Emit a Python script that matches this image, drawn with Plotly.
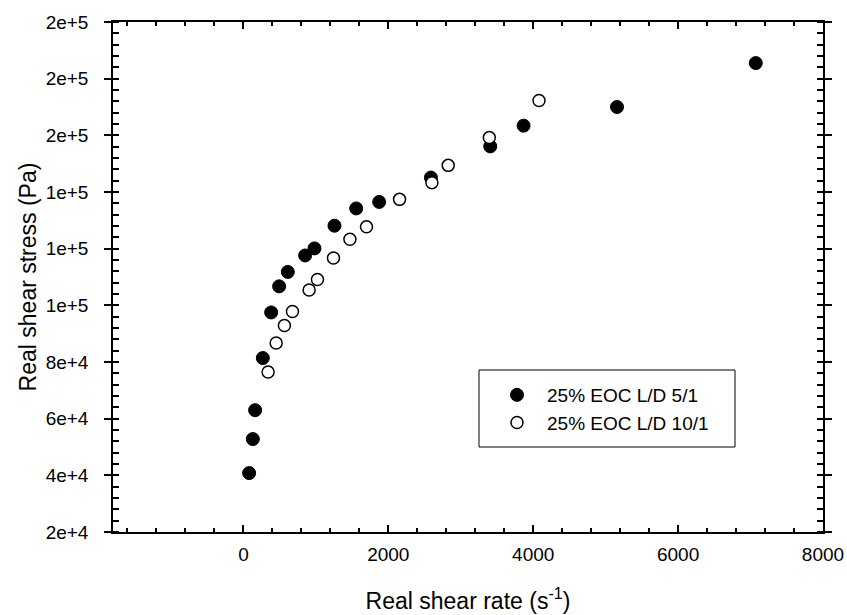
import plotly.graph_objects as go

# ---- data ----
rate_5_1 = [79, 130, 162, 268, 383, 493, 613, 852, 981, 1257, 1557, 1874, 2588, 3407, 3867, 5157, 7072]
stress_5_1 = [40800, 52800, 63000, 81400, 97500, 106700, 111800, 117600, 120100, 128100, 134200, 136500,
              145100, 156100, 163400, 170000, 185500]

rate_10_1 = [341, 452, 566, 677, 907, 1022, 1243, 1470, 1699, 2155, 2602, 2827, 3394, 4080]
stress_10_1 = [76500, 86700, 92900, 97800, 105400, 109100, 116700, 123300, 127700, 137400, 143300,
               149400, 159200, 172300]

series_names = ["25% EOC L/D 5/1", "25% EOC L/D 10/1"]

y_tickvals = [20000, 40000, 60000, 80000, 100000, 120000, 140000, 160000, 180000, 200000]
y_ticktext = ["2e+4", "4e+4", "6e+4", "8e+4", "1e+5", "1e+5", "1e+5", "2e+5", "2e+5", "2e+5"]
x_tickvals = [0, 2000, 4000, 6000, 8000]
x_ticktext = ["0", "2000", "4000", "6000", "8000"]

X_RANGE = [-1800, 8000]
Y_RANGE = [20000, 200000]

FONT = "Liberation Sans, Arial, Helvetica, sans-serif"

fig = go.Figure()
fig.add_trace(go.Scatter(
    x=rate_5_1, y=stress_5_1, mode="markers", name=series_names[0],
    marker=dict(symbol="circle", size=13, color="black", line=dict(color="black", width=1)),
))
fig.add_trace(go.Scatter(
    x=rate_10_1, y=stress_10_1, mode="markers", name=series_names[1],
    marker=dict(symbol="circle", size=12, color="white", line=dict(color="black", width=1.5)),
))
# empty helper trace to activate the overlay axis that draws inner halves of major y ticks
fig.add_trace(go.Scatter(x=[], y=[], yaxis="y2", showlegend=False, hoverinfo="skip"))

W, H = 847, 615
L, R, T, B = 113, 24, 22, 83
pw, ph = W - L - R, H - T - B

def px_to_paper(px, py):
    return (px - L) / pw, (H - B - py) / ph

lx0, ly0 = px_to_paper(479, 447)
lx1, ly1 = px_to_paper(735, 370)

fig.update_layout(
    width=W, height=H,
    margin=dict(l=L, r=R, t=T, b=B, autoexpand=False),
    paper_bgcolor="white", plot_bgcolor="white",
    font=dict(family=FONT, size=19, color="black"),
    showlegend=True,
    legend=dict(
        x=px_to_paper(487, 0)[0], y=px_to_paper(0, 376)[1], xanchor="left", yanchor="top",
        bgcolor="rgba(0,0,0,0)", borderwidth=0,
        font=dict(family=FONT, size=19, color="black"),
        itemwidth=50, tracegroupgap=0,
    ),
    xaxis=dict(
        range=X_RANGE, tickmode="array", tickvals=x_tickvals, ticktext=x_ticktext,
        ticks="inside", ticklen=7, tickwidth=1.5, tickcolor="black",
        showline=True, linecolor="black", linewidth=1.5, mirror="ticks",
        showgrid=False, zeroline=False, automargin=False,
        minor=dict(dtick=400, tick0=0, ticks="inside", ticklen=4, tickwidth=1.5, tickcolor="black", showgrid=False),
        tickfont=dict(family=FONT, size=19),
        ticklabelstandoff=4,
        title=dict(text="Real shear rate (s<sup>-1</sup>)", font=dict(family=FONT, size=23), standoff=29),
    ),
    yaxis=dict(
        range=Y_RANGE, tickmode="array", tickvals=y_tickvals, ticktext=y_ticktext,
        ticks="outside", ticklen=7, tickwidth=1.5, tickcolor="black",
        showline=True, linecolor="black", linewidth=1.5, mirror="ticks",
        showgrid=False, zeroline=False, automargin=False,
        minor=dict(dtick=4000, tick0=0, ticks="inside", ticklen=6, tickwidth=1.5, tickcolor="black", showgrid=False),
        tickfont=dict(family=FONT, size=19),
        ticklabelstandoff=12,
        title=dict(text="Real shear stress (Pa)", font=dict(family=FONT, size=23), standoff=3),
    ),
    yaxis2=dict(
        overlaying="y", anchor="x", side="left",
        range=Y_RANGE, tickmode="array", tickvals=y_tickvals,
        ticks="inside", ticklen=6, tickwidth=1.5, tickcolor="black",
        showline=True, linecolor="black", linewidth=1.5, mirror="ticks",
        showticklabels=False, showgrid=False, zeroline=False, automargin=False,
    ),
    shapes=[dict(type="rect", xref="paper", yref="paper", x0=lx0, y0=ly0, x1=lx1, y1=ly1,
                 line=dict(color="black", width=1), fillcolor="rgba(0,0,0,0)", layer="above")],
)

fig.write_html(
    "out.html",
    config={"displayModeBar": False},
    post_script="document.body.style.margin='0';document.body.style.padding='0';",
)
